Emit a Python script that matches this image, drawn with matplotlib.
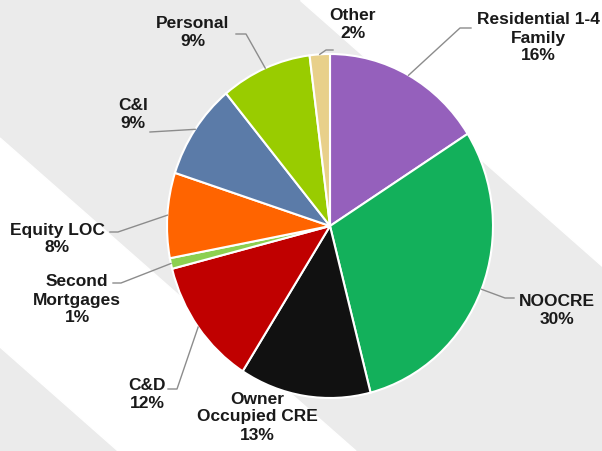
import numpy as np
import matplotlib.pyplot as plt
from matplotlib.patches import Polygon

plt.rcParams['font.family'] = ['Liberation Sans', 'DejaVu Sans']

labels = ["Residential 1-4\nFamily", "NOOCRE", "Owner\nOccupied CRE", "C&D",
          "Second\nMortgages", "Equity LOC", "C&I", "Personal", "Other"]
shares = [16, 30, 13, 12, 1, 8, 9, 9, 2]
colors = ["#9560BC", "#13B05B", "#111111", "#C00000", "#8CD050",
          "#FF6400", "#5B7BA8", "#99CC00", "#E8D08A"]

# layout (pixels, y down): text block centres and leader line points after the pie edge
text_pos = [(538, 38), (557, 311), (257, 417), (147, 394), (77, 300),
            (57, 239), (133, 114), (193, 32), (353, 25)]
leaders = [[(460, 28), (471, 28)],
           [(505, 298), (514, 298)],
           None,
           [(177, 389), (168, 389)],
           [(121, 283), (113, 283)],
           [(118, 232), (110, 232)],
           [(150, 132)],
           [(246, 34), (236, 34)],
           [(326, 50), (333, 50)]]

W, H = 602, 451
cx, cy, rx, ry = 330, 226, 163, 172

fig = plt.figure(figsize=(W / 100, H / 100), dpi=100)

# background with diagonal bands
bg = fig.add_axes([0, 0, 1, 1], zorder=0)
bg.set_xlim(0, W)
bg.set_ylim(H, 0)
bg.axis('off')
bg.add_patch(Polygon([(0, 0), (W, 0), (W, H), (0, H)], color='#EBEBEB'))
bg.add_patch(Polygon([(300, 0), (W, 0), (W, 266)], color='white'))
bg.add_patch(Polygon([(0, 138), (0, 347), (118, H), (356, H)], color='white'))

ax = fig.add_axes([(cx - rx) / W, (H - cy - ry) / H, 2 * rx / W, 2 * ry / H], zorder=1)
wedges, _ = ax.pie(shares, colors=colors, startangle=90, counterclock=False,
                   wedgeprops=dict(edgecolor='white', linewidth=1.5))
ax.set_aspect('auto')
ax.set_xlim(-1, 1)
ax.set_ylim(-1, 1)

top = fig.add_axes([0, 0, 1, 1], zorder=2)
top.set_xlim(0, W)
top.set_ylim(H, 0)
top.axis('off')
top.patch.set_alpha(0)

for w, lab, s, pos, ld in zip(wedges, labels, shares, text_pos, leaders):
    if ld is not None:
        a = np.deg2rad((w.theta1 + w.theta2) / 2)
        pts = [(cx + rx * np.cos(a), cy - ry * np.sin(a))] + ld
        xs, ys = zip(*pts)
        top.plot(xs, ys, color='#8C8C8C', lw=1)
    top.text(pos[0], pos[1], f"{lab}\n{s}%", ha='center', va='center',
             fontsize=12.5, fontweight='bold', color='#1A1A1A', linespacing=1.25)

fig.savefig("out.png", dpi=100)
